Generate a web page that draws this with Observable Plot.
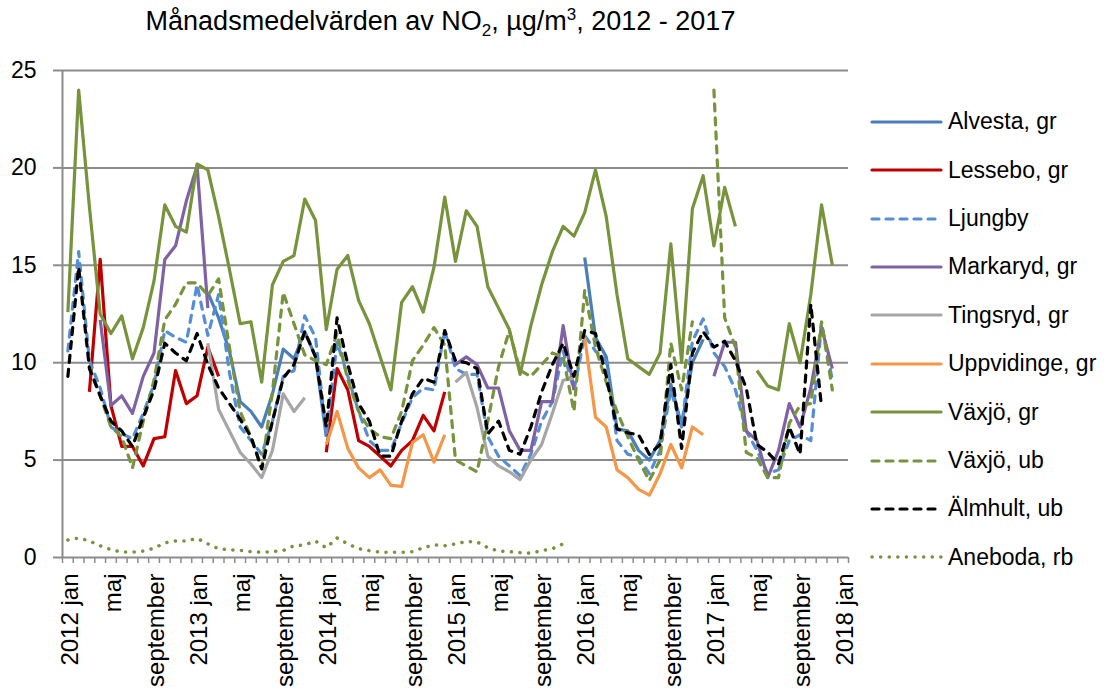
<!DOCTYPE html>
<html><head><meta charset="utf-8">
<script src="https://cdn.jsdelivr.net/npm/d3@7"></script>
<script src="https://cdn.jsdelivr.net/npm/@observablehq/plot@0.6"></script>
<style>
body{margin:0;background:#fff;font-family:"Liberation Sans",Arial,sans-serif;}
#wrap{position:relative;width:1107px;height:690px;overflow:hidden;background:#fff;}
#title{position:absolute;left:0;width:881px;top:5px;text-align:center;font-size:27px;color:#000;white-space:nowrap;}
#title sub,#title sup{font-size:17px;}
#legend{position:absolute;left:0;top:0;}
.lg{position:absolute;left:868px;height:40px;display:flex;align-items:center;font-size:23px;color:#000;white-space:nowrap;}
.lg svg{margin-right:4px;}
</style></head><body>
<div id="wrap">
<div id="chart"></div>
<div id="title">Månadsmedelvärden av NO<sub>2</sub>, µg/m<sup>3</sup>, 2012 - 2017</div>
<div id="legend"></div>
</div>
<script>
// x-axis category labels (every 4th month, Jan 2012 .. Jan 2018)
const xLabels = ["2012 jan","maj","september","2013 jan","maj","september","2014 jan","maj","september","2015 jan","maj","september","2016 jan","maj","september","2017 jan","maj","september","2018 jan"];
const yTicks = [0,5,10,15,20,25];

// Monthly means, index 0 = 2012 jan ... 71 = 2017 dec (null = missing)
const alvesta = [null,null,null,null,null,null,null,null,null,null,null,null,
 null,13.6,12.3,10.6,8.0,7.5,6.7,8.4,10.7,10.2,11.6,10.3,
 6.2,null,null,null,null,null,null,null,null,null,null,null,
 null,null,null,null,null,null,null,null,null,null,null,null,
 15.4,11.3,10.3,6.6,6.5,5.5,5.0,6.0,8.9,6.8,10.0,11.2];
const lessebo = [null,null,8.5,15.3,7.8,5.7,5.7,4.7,6.1,6.2,9.6,7.9,
 8.3,10.8,9.3,null,null,null,null,null,null,null,null,null,
 5.4,9.7,8.6,6.0,5.7,5.2,4.7,5.5,6.0,7.3,6.5,8.5];
const ljungby = [10.6,15.7,10.1,8.7,6.7,6.35,6.1,7.4,8.9,11.65,11.3,11.05,
 14.0,11.4,13.5,9.5,6.7,6.0,5.3,7.0,9.3,9.6,12.4,11.3,
 6.3,11.05,9.3,7.5,6.0,5.5,5.5,6.9,8.2,8.7,8.6,11.65,
 9.7,9.4,9.4,6.2,5.2,4.7,4.2,5.3,7.0,8.0,10.6,8.6,
 11.4,10.6,10.1,6.0,5.3,5.15,4.3,5.5,8.6,6.7,11.1,12.25,
 10.5,9.8,8.6,6.5,5.5,4.3,4.5,6.0,6.3,6.0,12.0,9.1];
const markaryd = [null,null,null,12.2,7.8,8.3,7.4,9.3,10.5,15.3,16.0,18.3,
 20.1,12.8,null,null,null,null,null,null,null,null,null,null,
 null,null,null,null,null,null,null,null,null,null,null,null,
 9.9,10.3,9.9,8.7,8.7,6.5,5.5,5.5,8.0,8.0,11.9,8.6,
 null,null,null,null,null,null,null,null,null,null,null,null,
 9.3,11.05,11.05,6.5,6.0,4.1,5.5,7.9,6.7,8.7,11.8,9.7];
const tingsryd = [null,null,null,null,null,null,null,null,null,null,null,null,
 null,11.0,7.6,6.5,5.4,4.8,4.1,5.5,8.4,7.5,8.2,null,
 null,null,null,null,null,null,null,null,null,null,null,null,
 9.0,9.5,7.7,5.2,4.7,4.4,4.0,5.0,5.8,7.4,9.1,9.2];
const uppvidinge = [null,null,null,null,null,null,null,null,null,null,null,null,
 null,null,null,null,null,null,null,null,null,null,null,null,
 5.8,7.5,5.6,4.6,4.1,4.5,3.7,3.65,5.9,6.3,4.9,6.3,
 null,null,null,null,null,null,null,null,null,null,null,null,
 11.3,7.2,6.7,4.5,4.1,3.5,3.2,4.3,5.8,4.6,6.7,6.3];
const vaxjoGr = [12.6,24.0,18.0,12.5,11.5,12.4,10.2,11.8,14.2,18.1,17.0,16.7,
 20.2,19.9,17.5,14.8,12.0,12.1,9.0,14.0,15.2,15.5,18.4,17.3,
 11.7,14.8,15.5,13.2,12.0,10.3,8.6,13.1,13.9,12.6,14.9,18.5,
 15.2,17.8,17.0,13.9,12.8,11.7,9.4,11.9,14.0,15.7,17.0,16.5,
 17.7,19.9,17.5,13.5,10.2,9.8,9.4,10.5,16.1,10.0,17.9,19.6,
 16.0,19.0,17.0,null,9.6,8.8,8.6,12.0,10.0,13.5,18.1,15.0];
const vaxjoUb = [null,null,9.8,8.3,6.7,6.2,4.6,7.0,9.1,12.2,13.0,14.1,
 14.1,13.45,14.3,10.8,7.5,6.2,4.6,8.5,13.6,12.0,10.4,10.1,
 9.9,11.5,9.1,7.5,6.6,6.2,6.1,7.5,10.1,10.9,11.8,10.9,
 5.0,4.7,4.4,7.0,9.8,11.65,9.6,9.3,9.9,10.5,10.3,7.5,
 13.7,10.8,9.0,7.5,6.2,5.0,3.95,5.0,11.0,8.6,12.1,null,
 24.0,12.3,10.8,5.4,5.1,4.1,4.1,6.9,7.8,7.9,12.1,8.6];
const almhult = [9.3,14.9,9.7,8.3,7.0,6.5,5.7,7.2,8.6,11.0,10.5,10.1,
 11.5,9.9,8.7,7.9,7.1,6.2,4.55,7.0,9.2,9.9,11.6,10.3,
 6.7,12.3,9.9,7.9,7.0,5.2,5.2,7.0,8.4,9.2,9.0,11.65,
 10.1,10.0,9.7,6.35,7.0,5.5,5.3,6.7,8.5,9.9,11.0,9.3,
 11.65,11.5,9.3,6.6,6.4,6.3,5.3,5.8,9.9,5.6,10.5,11.6,
 10.8,11.1,10.1,8.7,5.8,5.4,4.8,6.7,5.3,13.0,7.7,null];
const aneboda = [0.9,1.0,0.85,0.6,0.4,0.28,0.28,0.33,0.48,0.75,0.85,0.85,
 0.98,0.7,0.45,0.4,0.37,0.3,0.27,0.3,0.36,0.6,0.65,0.84,
 0.5,1.0,0.7,0.45,0.35,0.27,0.27,0.27,0.3,0.5,0.65,0.6,
 0.7,0.82,0.8,0.5,0.33,0.3,0.25,0.22,0.35,0.45,0.7];

const seriesNames = ["Alvesta, gr","Lessebo, gr","Ljungby","Markaryd, gr","Tingsryd, gr","Uppvidinge, gr","Växjö, gr","Växjö, ub","Älmhult, ub","Aneboda, rb"];
const seriesValues = [alvesta,lessebo,ljungby,markaryd,tingsryd,uppvidinge,vaxjoGr,vaxjoUb,almhult,aneboda];
const seriesColors = ["#4A7EBB","#C00000","#558ED5","#7F62A4","#A6A6A6","#F79646","#77933C","#77933C","#000000","#77933C"];
const seriesDash = [null,null,"7,7",null,null,null,null,"7,7","7,7","0.1,8.5"];

const NM = 72;
const rows = seriesValues.map(vals => d3.range(NM).map(i => ({i, v: vals[i] == null ? null : vals[i]})));

const grid = "#8c8c8c";
const marks = [
  Plot.gridY(yTicks.filter(d => d > 0), {stroke: grid, strokeOpacity: 1, strokeWidth: 2}),
  Plot.ruleX([-0.5], {stroke: grid, strokeWidth: 2}),
  Plot.ruleY([0], {stroke: grid, strokeWidth: 2}),
  Plot.axisY(yTicks, {tickSize: 9, tickPadding: 17, stroke: grid, strokeWidth: 2, fill: "#000", fontSize: 23, label: null}),
  Plot.axisX(d3.range(-0.5, NM + 1, 1), {tickSize: 6, stroke: grid, strokeWidth: 1.5, tickFormat: () => "", label: null}),
  Plot.axisX(d3.range(0, NM + 1, 4), {tickSize: 0, tickPadding: 16, tickRotate: -90, dx: 2, fill: "#000", fontSize: 24, tickFormat: d => xLabels[d / 4], label: null})
];
seriesValues.forEach((_, k) => {
  marks.push(Plot.line(rows[k], {
    x: "i", y: "v", stroke: seriesColors[k],
    strokeWidth: k === 9 ? 3.5 : 3.2,
    strokeDasharray: seriesDash[k] || undefined,
    strokeLinecap: seriesDash[k] ? "round" : "butt",
    strokeLinejoin: "round"
  }));
});

const chart = Plot.plot({
  width: 1107, height: 690,
  marginLeft: 62, marginRight: 259, marginTop: 70, marginBottom: 133,
  style: {fontFamily: "'Liberation Sans', Arial, sans-serif", background: "#fff", color: "#000", overflow: "visible"},
  x: {type: "linear", domain: [-0.5, NM + 0.5], axis: null},
  y: {domain: [0, 25], axis: null},
  marks
});
document.getElementById("chart").appendChild(chart);

const lg = document.getElementById("legend");
seriesNames.forEach((name, k) => {
  const d = document.createElement("div");
  d.className = "lg";
  d.style.top = (121.7 + k * 48.4 - 20) + "px";
  const dash = seriesDash[k] ? `stroke-dasharray="${seriesDash[k]}" stroke-linecap="round"` : `stroke-linecap="round"`;
  d.innerHTML = `<svg width="76" height="10"><line x1="4" y1="5" x2="73" y2="5" stroke="${seriesColors[k]}" stroke-width="${k===9?3.5:3.2}" ${dash}/></svg><span>${name}</span>`;
  lg.appendChild(d);
});
</script>
</body></html>
